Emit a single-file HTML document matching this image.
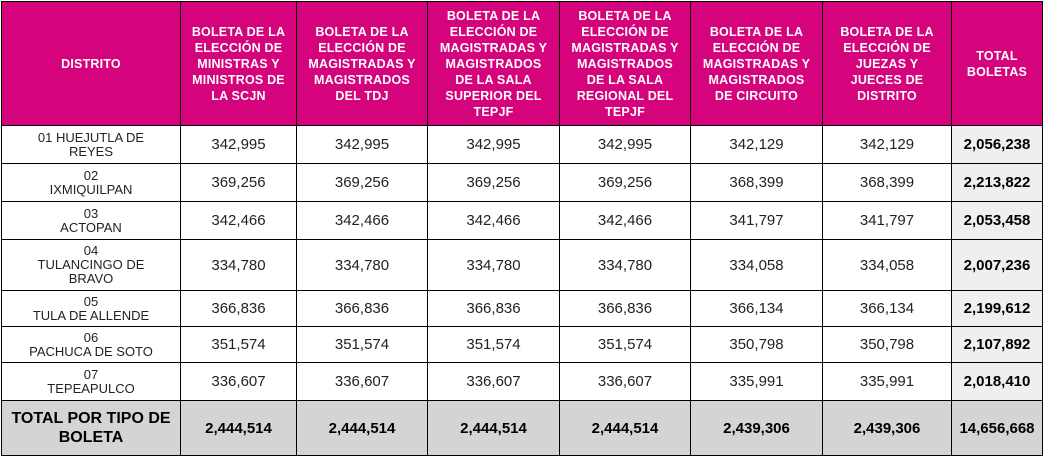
<!DOCTYPE html>
<html><head><meta charset="utf-8">
<style>
html,body{margin:0;padding:0;background:#fff;width:1044px;height:458px;overflow:hidden}
table{position:absolute;left:1px;top:1px;border-collapse:collapse;table-layout:fixed;font-family:"Liberation Sans",sans-serif}
td,th{border:1px solid #000;padding:0;text-align:center;vertical-align:middle;overflow:hidden;white-space:nowrap}
th{background:#d5037c;color:#fff;font-weight:bold;font-size:12.5px;line-height:16px;letter-spacing:0.2px}
td{font-size:15px;color:#222}
td.d{font-size:13px;line-height:14px}
td.t{background:#efefef;font-weight:bold;color:#000}
tr.tot td{background:#d4d4d4;font-weight:bold;color:#000;font-size:15px}
tr.tot td.d{font-size:16px;line-height:19px}
</style></head><body>
<table>
<colgroup><col style="width:179px"><col style="width:116px"><col style="width:131px"><col style="width:132px"><col style="width:131px"><col style="width:132px"><col style="width:129px"><col style="width:91px"></colgroup>
<thead><tr style="height:124px">
<th>DISTRITO</th>
<th>BOLETA DE LA<br>ELECCIÓN DE<br>MINISTRAS Y<br>MINISTROS DE<br>LA SCJN</th>
<th>BOLETA DE LA<br>ELECCIÓN DE<br>MAGISTRADAS Y<br>MAGISTRADOS<br>DEL TDJ</th>
<th>BOLETA DE LA<br>ELECCIÓN DE<br>MAGISTRADAS Y<br>MAGISTRADOS<br>DE LA SALA<br>SUPERIOR DEL<br>TEPJF</th>
<th>BOLETA DE LA<br>ELECCIÓN DE<br>MAGISTRADAS Y<br>MAGISTRADOS<br>DE LA SALA<br>REGIONAL DEL<br>TEPJF</th>
<th>BOLETA DE LA<br>ELECCIÓN DE<br>MAGISTRADAS Y<br>MAGISTRADOS<br>DE CIRCUITO</th>
<th>BOLETA DE LA<br>ELECCIÓN DE<br>JUEZAS Y<br>JUECES DE<br>DISTRITO</th>
<th>TOTAL<br>BOLETAS</th>
</tr></thead>
<tbody id="tb"></tbody>
</table>
<script>
var districts=["01 HUEJUTLA DE<br>REYES","02<br>IXMIQUILPAN","03<br>ACTOPAN","04<br>TULANCINGO DE<br>BRAVO","05<br>TULA DE ALLENDE","06<br>PACHUCA DE SOTO","07<br>TEPEAPULCO"];
var scjn=["342,995","369,256","342,466","334,780","366,836","351,574","336,607"];
var tdj=["342,995","369,256","342,466","334,780","366,836","351,574","336,607"];
var salaSup=["342,995","369,256","342,466","334,780","366,836","351,574","336,607"];
var salaReg=["342,995","369,256","342,466","334,780","366,836","351,574","336,607"];
var circuito=["342,129","368,399","341,797","334,058","366,134","350,798","335,991"];
var jueces=["342,129","368,399","341,797","334,058","366,134","350,798","335,991"];
var totals=["2,056,238","2,213,822","2,053,458","2,007,236","2,199,612","2,107,892","2,018,410"];
var grand=["2,444,514","2,444,514","2,444,514","2,444,514","2,439,306","2,439,306","14,656,668"];
var heights=[38,38,38,51,36,36,38];
var tb=document.getElementById('tb');
for(var i=0;i<districts.length;i++){
  var tr=document.createElement('tr');
  
  
  tr.style.height=heights[i]+'px';
  var vals=[scjn[i],tdj[i],salaSup[i],salaReg[i],circuito[i],jueces[i]];
  var td=document.createElement('td');
  td.className='d';td.innerHTML=districts[i];
  
  
  tr.appendChild(td);
  for(var j=0;j<vals.length;j++){
    var c=document.createElement('td');c.textContent=vals[j];
    
    
    tr.appendChild(c);
  }
  var t=document.createElement('td');t.className='t';t.textContent=totals[i];
  
  
  tr.appendChild(t);
  tb.appendChild(tr);
}
var tr=document.createElement('tr');tr.className='tot';tr.style.height='55px';


var td=document.createElement('td');td.className='d';td.innerHTML='TOTAL POR TIPO DE<br>BOLETA';


tr.appendChild(td);
for(var k=0;k<grand.length;k++){
  var c=document.createElement('td');c.textContent=grand[k];
  
  
  tr.appendChild(c);
}
tb.appendChild(tr);
</script>
</body></html>
